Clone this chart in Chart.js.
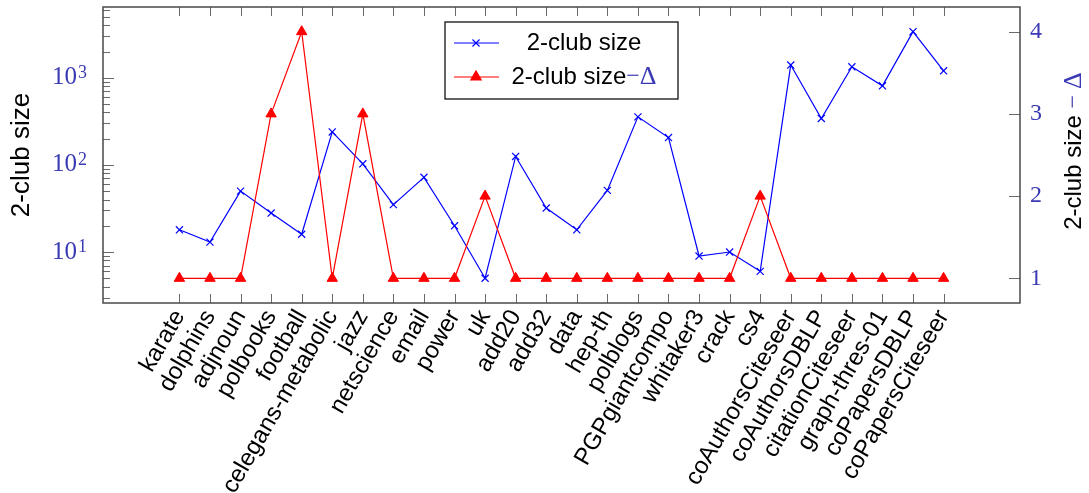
<!DOCTYPE html>
<html>
<head>
<meta charset="utf-8">
<script src="https://cdn.jsdelivr.net/npm/chart.js@4.4.1/dist/chart.umd.min.js"></script>
<style>
  html, body { margin: 0; padding: 0; background: #fff; }
  #wrap { width: 1089px; height: 493px; position: relative; }
</style>
</head>
<body>
<div id="wrap"><canvas id="c" width="1089" height="493"></canvas></div>
<script>
// Graph instances along the x axis
const categories = [
  'karate', 'dolphins', 'adjnoun', 'polbooks', 'football', 'celegans-metabolic',
  'jazz', 'netscience', 'email', 'power', 'uk', 'add20', 'add32', 'data',
  'hep-th', 'polblogs', 'PGPgiantcompo', 'whitaker3', 'crack', 'cs4',
  'coAuthorsCiteseer', 'coAuthorsDBLP', 'citationCiteseer', 'graph-thres-01',
  'coPapersDBLP', 'coPapersCiteseer'
];
// Size of the largest 2-club (left, logarithmic axis)
const clubSize = [18, 13, 50, 28, 16, 239, 103, 35, 72, 20, 5, 125, 32, 18,
                  51, 356, 206, 9, 10, 6, 1400, 341, 1337, 809, 3380, 1203];
// 2-club size minus Delta (right, linear axis)
const clubSizeDelta = [1, 1, 1, 3, 4, 1, 3, 1, 1, 1, 2, 1, 1, 1,
                       1, 1, 1, 1, 1, 2, 1, 1, 1, 1, 1, 1];
// Tick labels
const logTickExponents = [1, 2, 3];
const deltaTicks = [1, 2, 3, 4];
const legendLabels = ['2-club size', '2-club size'];
const leftTitle = '2-club size';
const rightTitle = '2-club size';

const MATH_BLUE = '#3a3ab4';
const SANS = '"Liberation Sans", Arial, sans-serif';
const SERIF = '"Liberation Serif", "Times New Roman", serif';

// Draw text segments one after the other, each with its own font and colour
function drawRun(ctx, parts, x, y) {
  let cx = x;
  parts.forEach(p => {
    ctx.font = p.font;
    ctx.fillStyle = p.color;
    ctx.fillText(p.text, cx, y);
    cx += ctx.measureText(p.text).width + (p.gap || 0);
  });
}
function runWidth(ctx, parts) {
  let w = 0;
  parts.forEach(p => { ctx.font = p.font; w += ctx.measureText(p.text).width + (p.gap || 0); });
  return w;
}
// Fixed axis box sizes, no extra label padding
function fixBox(size) {
  return s => {
    if (s.isHorizontal()) s.height = size; else s.width = size;
    s.paddingTop = 0; s.paddingBottom = 0; s.paddingLeft = 0; s.paddingRight = 0;
  };
}

const axesDecor = {
  id: 'axesDecor',
  beforeDatasetsDraw(chart) {
    const { ctx, chartArea: a, scales } = chart;
    ctx.save();
    ctx.strokeStyle = '#6a6a6a';
    ctx.lineWidth = 1;
    ctx.beginPath();
    // category ticks, inside, bottom and top
    scales.x.ticks.forEach(t => {
      const px = Math.round(scales.x.getPixelForValue(t.value)) + 0.5;
      ctx.moveTo(px, a.bottom); ctx.lineTo(px, a.bottom - 9);
      ctx.moveTo(px, a.top); ctx.lineTo(px, a.top + 9);
    });
    // logarithmic ticks: decades long, intermediate values short
    for (let e = 0; e <= 3; e++) {
      for (let m = 1; m <= 9; m++) {
        const v = m * Math.pow(10, e);
        if (v < scales.y.min || v > scales.y.max) continue;
        const py = Math.round(scales.y.getPixelForValue(v)) + 0.5;
        ctx.moveTo(a.left, py);
        ctx.lineTo(a.left + (m === 1 ? 11 : 7), py);
      }
    }
    // right axis ticks
    deltaTicks.forEach(v => {
      const py = Math.round(scales.y1.getPixelForValue(v)) + 0.5;
      ctx.moveTo(a.right, py); ctx.lineTo(a.right - 11, py);
    });
    ctx.stroke();
    ctx.strokeStyle = '#4a4a4a';
    ctx.lineWidth = 1.5;
    ctx.strokeRect(a.left, a.top, a.right - a.left, a.bottom - a.top);
    ctx.restore();
  },
  afterDraw(chart) {
    const { ctx, chartArea: a, scales } = chart;
    ctx.save();

    // 10^k labels on the logarithmic axis
    logTickExponents.forEach(k => {
      const py = scales.y.getPixelForValue(Math.pow(10, k));
      ctx.fillStyle = MATH_BLUE;
      ctx.font = '25px ' + SERIF;
      ctx.textAlign = 'right';
      ctx.textBaseline = 'middle';
      ctx.fillText('10', a.left - 26, py);
      ctx.font = '18px ' + SERIF;
      ctx.textAlign = 'left';
      ctx.textBaseline = 'alphabetic';
      ctx.fillText(String(k), a.left - 25, py);
    });

    // left axis title
    ctx.save();
    ctx.translate(22, 155);
    ctx.rotate(-Math.PI / 2);
    ctx.textAlign = 'center';
    ctx.textBaseline = 'middle';
    ctx.font = '26px ' + SANS;
    ctx.fillStyle = '#000';
    ctx.fillText(leftTitle, 0, 0);
    ctx.restore();

    // right axis title: "2-club size − Δ"
    ctx.save();
    ctx.translate(1074, 151);
    ctx.rotate(-Math.PI / 2);
    ctx.textAlign = 'left';
    ctx.textBaseline = 'middle';
    const rParts = [
      { text: rightTitle + ' ', font: '24px ' + SANS, color: '#000' },
      { text: '\u2212 ', font: '24px ' + SERIF, color: MATH_BLUE },
      { text: '\u0394', font: '26px ' + SERIF, color: MATH_BLUE }
    ];
    drawRun(ctx, rParts, -runWidth(ctx, rParts) / 2, 0);
    ctx.restore();

    // legend
    const lx = 445, ly = 22, lw = 233, lh = 77, cx = 584;
    ctx.fillStyle = '#fff';
    ctx.fillRect(lx, ly, lw, lh);
    ctx.strokeStyle = '#111';
    ctx.lineWidth = 1.3;
    ctx.strokeRect(lx, ly, lw, lh);
    const rows = [
      { y: 43, color: '#0000ff', style: 'crossRot', radius: 5 },
      { y: 77, color: '#ff0000', style: 'triangle', radius: 6 }
    ];
    rows.forEach(r => {
      ctx.strokeStyle = r.color;
      ctx.lineWidth = 1.2;
      ctx.beginPath();
      ctx.moveTo(454, r.y); ctx.lineTo(499, r.y);
      ctx.stroke();
      ctx.fillStyle = r.color;
      Chart.helpers.drawPoint(ctx, { pointStyle: r.style, radius: r.radius, borderWidth: 1.2, rotation: 0 }, 476, r.y);
      if (r.style === 'triangle') ctx.fill();
    });
    ctx.textBaseline = 'middle';
    ctx.textAlign = 'left';
    const row1 = [{ text: legendLabels[0], font: '24px ' + SANS, color: '#000' }];
    drawRun(ctx, row1, cx - runWidth(ctx, row1) / 2, 43);
    const row2 = [
      { text: legendLabels[1], font: '24px ' + SANS, color: '#000' },
      { text: '\u2212', font: '24px ' + SERIF, color: MATH_BLUE },
      { text: '\u0394', font: '26px ' + SERIF, color: MATH_BLUE }
    ];
    drawRun(ctx, row2, cx - runWidth(ctx, row2) / 2, 77);

    ctx.restore();
  }
};

new Chart(document.getElementById('c'), {
  type: 'line',
  data: {
    datasets: [
      {
        label: legendLabels[0],
        data: categories.map((c, i) => ({ x: i, y: clubSize[i] })),
        yAxisID: 'y',
        borderColor: '#0000ff',
        backgroundColor: '#0000ff',
        borderWidth: 1.2,
        pointStyle: 'crossRot',
        pointRadius: 5,
        pointBorderWidth: 1.2,
        tension: 0,
        order: 1
      },
      {
        label: legendLabels[1] + '\u2212\u0394',
        data: categories.map((c, i) => ({ x: i, y: clubSizeDelta[i] })),
        yAxisID: 'y1',
        borderColor: '#ff0000',
        backgroundColor: '#ff0000',
        borderWidth: 1.2,
        pointStyle: 'triangle',
        pointRadius: 6,
        pointBorderWidth: 1,
        tension: 0,
        order: 0
      }
    ]
  },
  options: {
    responsive: false,
    devicePixelRatio: 1,
    animation: false,
    events: [],
    layout: { padding: { top: 7, left: 0, right: 0, bottom: 0 } },
    plugins: { legend: { display: false }, tooltip: { enabled: false } },
    scales: {
      x: {
        type: 'linear',
        position: 'bottom',
        min: -2.5,
        max: 27.5,
        afterBuildTicks: s => { s.ticks = categories.map((c, i) => ({ value: i })); },
        afterFit: fixBox(190),
        grid: { display: false, drawTicks: false },
        border: { display: false },
        ticks: {
          autoSkip: false,
          minRotation: 60,
          maxRotation: 60,
          padding: 2,
          color: '#000',
          font: { family: SANS, size: 24 },
          callback: v => categories[v]
        }
      },
      y: {
        type: 'logarithmic',
        position: 'left',
        min: 2.6,
        max: 6490,
        afterFit: fixBox(103),
        grid: { display: false, drawTicks: false },
        border: { display: false },
        ticks: { display: false }
      },
      y1: {
        type: 'linear',
        position: 'right',
        min: 0.7,
        max: 4.3,
        afterBuildTicks: s => { s.ticks = deltaTicks.map(v => ({ value: v })); },
        afterFit: fixBox(69),
        grid: { display: false, drawTicks: false },
        border: { display: false },
        ticks: {
          padding: 10,
          color: MATH_BLUE,
          font: { family: SERIF, size: 24 }
        }
      }
    }
  },
  plugins: [axesDecor]
});
</script>
</body>
</html>
